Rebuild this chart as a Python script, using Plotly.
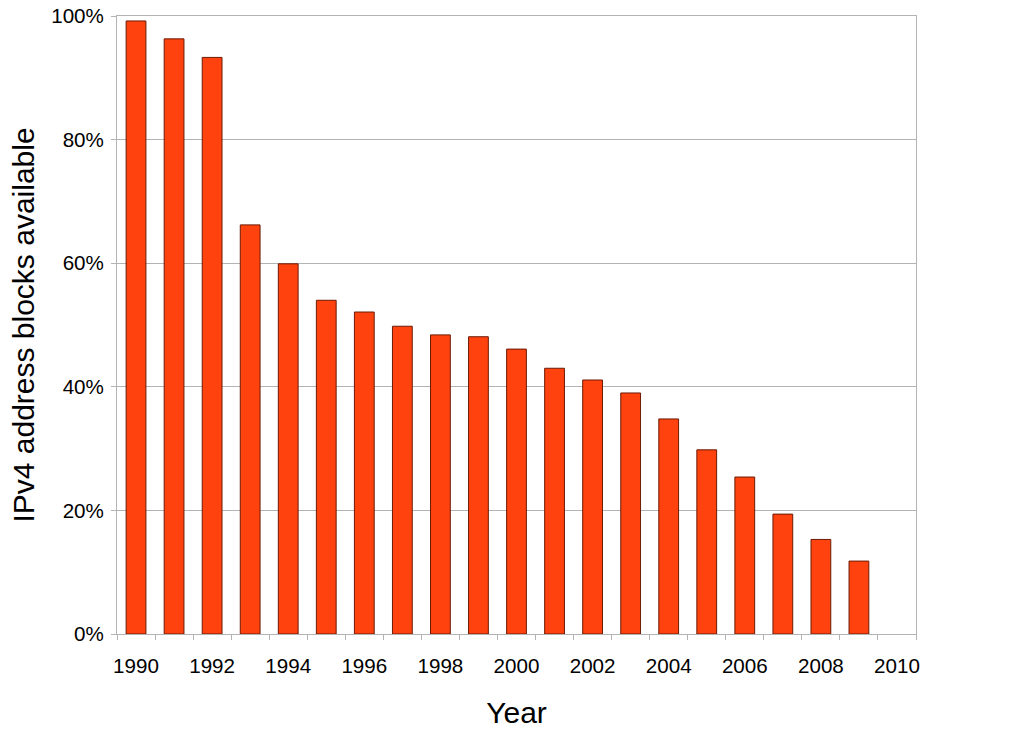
import plotly.graph_objects as go

years = list(range(1990, 2010))
available = [0.992, 0.963, 0.933, 0.662, 0.599, 0.540, 0.521, 0.498, 0.484, 0.481,
             0.461, 0.430, 0.411, 0.390, 0.348, 0.298, 0.254, 0.194, 0.153, 0.118]
tick_years = list(range(1990, 2011, 2))
tick_labels = [str(y) for y in tick_years]
y_ticks = [0, 0.2, 0.4, 0.6, 0.8, 1.0]
y_labels = ["0%", "20%", "40%", "60%", "80%", "100%"]

fig = go.Figure()
fig.add_trace(go.Bar(
    x=years, y=available, width=0.52,
    marker=dict(color="#FF420E", line=dict(color="#6b1a05", width=1)),
))

font = "Liberation Sans, Arial, sans-serif"
fig.update_layout(
    width=1024, height=730,
    margin=dict(l=117, r=108, t=16, b=96, autoexpand=False),
    plot_bgcolor="white", paper_bgcolor="white",
    showlegend=False,
    font=dict(family=font, color="black", size=20.6),
    xaxis=dict(
        range=[1989.5, 2010.5],
        tickmode="array", tickvals=tick_years, ticktext=tick_labels,
        ticks="", showgrid=False,
        showline=True, linecolor="#b3b3b3", linewidth=1, mirror=True,
        minor=dict(tickmode="array", tickvals=[y + 0.5 for y in range(1989, 2011)],
                   ticks="outside", ticklen=5, tickcolor="#b3b3b3", showgrid=False),
        ticklabelstandoff=13,
        title=dict(text="Year", font=dict(size=30), standoff=26),
        zeroline=False,
        automargin=False,
    ),
    yaxis=dict(
        range=[0, 1],
        tickmode="array", tickvals=y_ticks, ticktext=y_labels,
        ticks="outside", ticklen=5, tickcolor="#b3b3b3",
        showgrid=True, gridcolor="#b3b3b3", gridwidth=1,
        showline=True, linecolor="#b3b3b3", linewidth=1, mirror=True,
        ticklabelstandoff=3,
        ticklabeloverflow="allow",
        title=dict(text="IPv4 address blocks available", font=dict(size=30), standoff=7),
        zeroline=False,
        automargin=False,
    ),
)

fig.write_html("out.html", config={"displayModeBar": False},
               post_script="document.body.style.margin='0';")
